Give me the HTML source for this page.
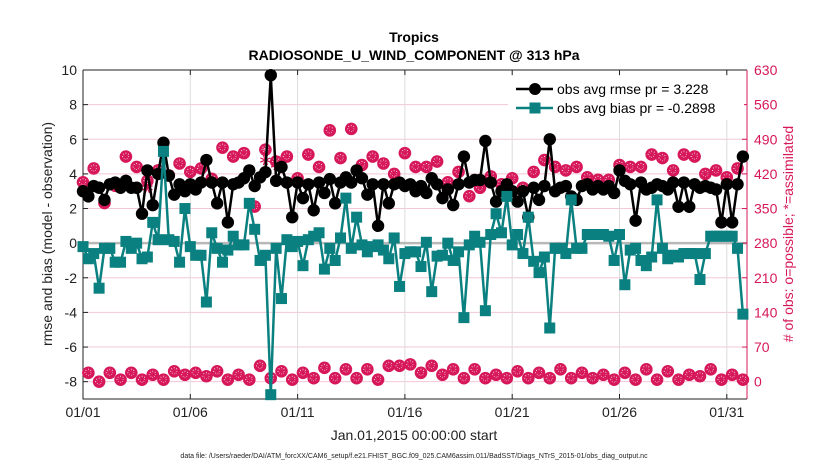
<!DOCTYPE html>
<html><head><meta charset="utf-8"><style>
body{margin:0;background:#fff;}
svg{display:block;font-family:"Liberation Sans",sans-serif;}
</style></head><body>
<svg id="chart" width="830" height="470">
<text x="414" y="42" text-anchor="middle" font-size="14" font-weight="bold">Tropics</text>
<text x="414" y="60" text-anchor="middle" font-size="14" font-weight="bold">RADIOSONDE_U_WIND_COMPONENT @ 313 hPa</text>
<g id="grid"></g>
<g id="ticks"></g>
<g id="marks"></g>
<text transform="translate(52,234) rotate(-90)" text-anchor="middle" font-size="14" fill="#222">rmse and bias (model - observation)</text>
<text transform="translate(793,234) rotate(-90)" text-anchor="middle" font-size="14" fill="#d6185a"># of obs: o=possible; *=assimilated</text>
<text x="414" y="440" text-anchor="middle" font-size="14" fill="#222">Jan.01,2015 00:00:00 start</text>
<text x="414" y="458" text-anchor="middle" font-size="7" fill="#222">data file: /Users/raeder/DAI/ATM_forcXX/CAM6_setup/f.e21.FHIST_BGC.f09_025.CAM6assim.011/BadSST/Diags_NTrS_2015-01/obs_diag_output.nc</text>
<g id="legend">
<rect x="508" y="76" width="236" height="44" fill="#fff"/>
<line x1="516" y1="89" x2="553" y2="89" stroke="#000" stroke-width="2.5"/>
<circle cx="535" cy="89" r="6" fill="#000"/>
<text x="557" y="94" font-size="14">obs avg rmse pr = 3.228</text>
<line x1="516" y1="108" x2="553" y2="108" stroke="#0a8080" stroke-width="2.5"/>
<rect x="529.5" y="102.5" width="11" height="11" fill="#0a8080"/>
<text x="557" y="113" font-size="14">obs avg bias pr = -0.2898</text>
</g>
</svg>
<script>
const rmse=[3.0,2.7,3.3,3.2,2.5,3.4,3.5,3.2,3.6,3.2,3.2,1.7,4.2,2.2,4.0,5.8,3.9,2.8,3.4,3.0,3.4,3.1,3.5,4.8,3.5,2.3,3.5,1.2,3.4,3.5,
3.75,4.2,3.3,3.8,4.1,9.7,3.6,4.4,3.5,1.5,3.5,2.6,3.4,1.9,3.5,2.9,3.7,2.3,3.5,3.8,3.5,4.2,3.75,2.8,3.4,1.0,3.4,2.3,3.4,3.5,3.3,3.4,
3.0,3.3,2.9,3.75,3.4,2.6,3.1,2.2,3.4,5.0,3.5,3.65,3.65,5.9,3.5,2.4,3.0,3.4,3.0,2.4,3.0,1.5,3.2,2.5,3.3,6.0,3.0,3.2,3.3,2.7,
2.5,3.3,3.4,3.1,3.3,3.1,3.3,2.9,4.2,3.6,3.4,1.3,3.5,3.1,3.2,3.4,3.3,3.1,3.5,2.1,3.5,2.1,3.4,3.2,3.3,3.2,3.1,1.2,3.4,1.2,3.4,5.0];
const bias=[-0.2,-0.9,-0.6,-2.6,-0.3,-0.3,-1.1,-1.1,0.1,-0.3,0,-0.9,-0.8,1.2,0.2,5.3,0.2,0.1,-1.1,2.0,-0.2,-0.7,-0.7,-3.4,0.6,-0.3,-1.1,-0.4,0.4,-0.1,
-0.1,2.3,0.8,-1.0,-0.7,-8.75,-0.3,-3.2,0.2,-0.2,0.1,-1.3,0.2,0.4,0.6,-1.5,-0.3,-1.0,0.3,2.6,-0.3,1.5,-0.1,-0.5,-0.2,-0.1,-0.4,-0.9,0.3,-2.5,-0.6,-0.5,
-0.5,-1.35,0.05,-2.8,-0.75,-0.7,0,-1.0,-0.5,-4.3,-0.1,0.4,0.05,-3.9,0.5,1.7,0.6,2.7,-0.1,0.5,-0.6,1.5,-1.05,-1.7,-0.8,-4.9,-0.3,-0.3,-0.6,2.5,-0.3,
-0.3,0.5,0.5,0.5,0.5,0.4,-1.0,0.5,-2.4,-0.4,-0.3,-1.0,-1.3,-0.8,2.5,-0.3,-0.9,-0.7,-0.8,-0.6,-0.6,-0.6,-2.1,-0.6,0.4,0.4,0.4,0.4,0.4,-0.3,-4.1];
const nposs=[403,18,431,0,361,18,396,4,455,18,434,4,406,14,427,4,417,21,441,14,424,18,431,11,410,21,473,4,455,14,462,4,354,32,469,7,445,21,455,4,411,18,459,7,434,28,508,7,452,25,511,7,438,25,455,4,441,32,420,32,462,35,434,18,434,32,445,14,403,25,424,7,375,25,392,7,415,14,399,7,411,21,392,7,424,18,448,7,434,25,427,7,434,18,413,7,408,14,408,4,438,18,434,4,434,25,459,4,452,21,427,4,459,14,455,11,420,25,427,4,413,14,431,4];
const nused=[403,18,431,0,361,18,396,4,455,18,434,4,392,14,427,4,417,21,441,14,424,18,431,11,410,21,473,4,455,14,462,4,354,32,448,7,438,21,455,4,411,18,459,7,434,28,508,7,452,25,511,7,438,25,455,4,441,32,420,32,462,35,434,18,434,32,445,14,403,25,424,7,375,25,392,7,415,14,399,7,411,21,392,7,424,18,448,7,434,25,427,7,434,18,413,7,408,14,408,4,438,18,434,4,434,25,459,4,452,21,427,4,459,14,455,11,420,25,427,4,413,14,431,4];
const leftTicks=[10,8,6,4,2,0,-2,-4,-6,-8];
const rightTicks=[630,560,490,420,350,280,210,140,70,0];
const dateTicks=["01/01","01/06","01/11","01/16","01/21","01/26","01/31"];
const dateTickDays=[0,5,10,15,20,25,30];

const NS="http://www.w3.org/2000/svg";
const X0=83,X1=747,Y0=70,Y1=399,PINK="#d6185a",TEAL="#0a8080";
const dayPx=21.46;
function xDay(d){return X0+d*dayPx;}
function xIdx(i){return xDay(i*0.25);}
function yL(v){return Y0+(10-v)*(Y1-Y0)/19;}
function yR(c){return yL(c/35-8);}
function mk(tag,attrs,parent){const e=document.createElementNS(NS,tag);for(const k in attrs)e.setAttribute(k,attrs[k]);parent.appendChild(e);return e;}
const grid=document.getElementById('grid'),ticks=document.getElementById('ticks'),marks=document.getElementById('marks');
mk('rect',{x:X0,y:Y0,width:X1-X0,height:Y1-Y0,fill:'#fff'},grid);
leftTicks.forEach(v=>{
  if(v!==0&&v!==10){const l=mk('line',{x1:X0,x2:X1,y1:yL(v),y2:yL(v),stroke:'#f2c8d6','stroke-width':1},grid);
  
  }
  const t=mk('text',{x:X0-6,y:yL(v)+5,'text-anchor':'end','font-size':14,fill:'#222'},ticks);t.textContent=v;
  
  
  mk('line',{x1:X0,x2:X0+5,y1:yL(v),y2:yL(v),stroke:'#222'},ticks);
});
rightTicks.forEach(c=>{
  const t=mk('text',{x:X1+7,y:yR(c)+5,'font-size':14,fill:PINK},ticks);t.textContent=c;
  
  
  mk('line',{x1:X1-5,x2:X1,y1:yR(c),y2:yR(c),stroke:PINK},ticks);
});
dateTicks.forEach((lab,k)=>{
  const x=xDay(dateTickDays[k]);
  if(k>0){const g=mk('line',{x1:x,x2:x,y1:Y0,y2:Y1,stroke:'#dcdcdc'},grid);
  
  }
  mk('line',{x1:x,x2:x,y1:Y1,y2:Y1-5,stroke:'#222'},ticks);
  mk('line',{x1:x,x2:x,y1:Y0,y2:Y0+5,stroke:'#222'},ticks);
  const t=mk('text',{x:x,y:Y1+18,'text-anchor':'middle','font-size':14,fill:'#222'},ticks);t.textContent=lab;
  
  
});
mk('line',{x1:X0,x2:X1,y1:yL(0),y2:yL(0),stroke:'#b8b8b8','stroke-width':2.5},grid);
mk('path',{d:`M${X0},${Y0}H${X1}`,stroke:'#222',fill:'none'},ticks);
mk('path',{d:`M${X0},${Y0}V${Y1}H${X1}`,stroke:'#222',fill:'none'},ticks);
mk('line',{x1:X1,x2:X1,y1:Y0,y2:Y1,stroke:PINK},ticks);

function countMarker(x,y,g){
  mk('circle',{cx:x,cy:y,r:6.3,fill:PINK},g);
  for(let a=0;a<4;a++){const an=a*Math.PI/4;
    mk('line',{x1:x-4*Math.cos(an),y1:y-4*Math.sin(an),x2:x+4*Math.cos(an),y2:y+4*Math.sin(an),stroke:'#fff','stroke-width':0.8,'stroke-dasharray':'1,1'},g);}
}
function star(x,y,g){
  for(let a=0;a<4;a++){const an=a*Math.PI/4+Math.PI/8;
    mk('line',{x1:x-5.5*Math.cos(an),y1:y-5.5*Math.sin(an),x2:x+5.5*Math.cos(an),y2:y+5.5*Math.sin(an),stroke:PINK,'stroke-width':1.3},g);}
}
const cg=mk('g',{},marks);


nposs.forEach((c,i)=>{countMarker(xIdx(i),yR(c),cg);});
nused.forEach((c,i)=>{star(xIdx(i),yR(c),cg);});

const rg=mk('g',{},marks);


mk('polyline',{points:rmse.map((v,i)=>xIdx(i)+','+yL(v)).join(' '),fill:'none',stroke:'#000','stroke-width':2.5},rg);
rmse.forEach((v,i)=>{const c=mk('circle',{cx:xIdx(i),cy:yL(v),r:6.2,fill:'#000'},rg);
  
  });

const bg=mk('g',{},marks);


mk('polyline',{points:bias.map((v,i)=>xIdx(i)+','+yL(v)).join(' '),fill:'none',stroke:TEAL,'stroke-width':2.5},bg);
bias.forEach((v,i)=>{const r=mk('rect',{x:xIdx(i)-5.5,y:yL(v)-5.5,width:11,height:11,fill:TEAL},bg);
  
  });
document.getElementById('chart').appendChild(document.getElementById('legend'));
</script>
</body></html>
